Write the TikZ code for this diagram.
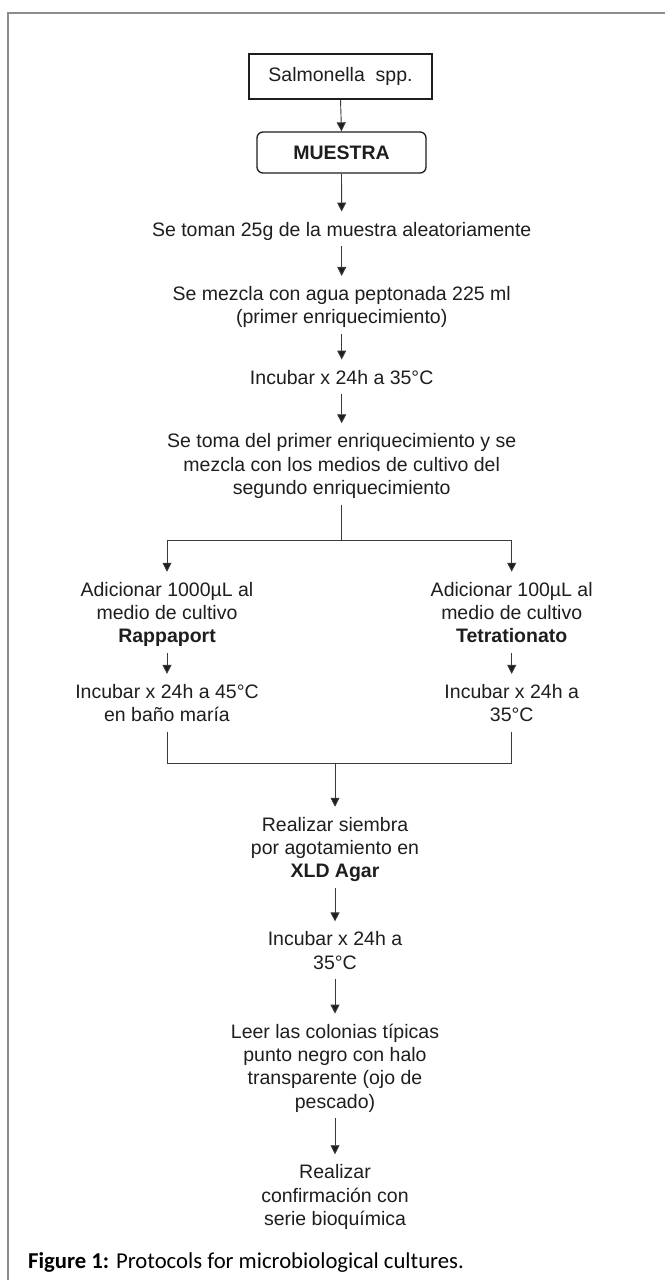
\documentclass[tikz,border=0pt]{standalone}
\usepackage{fontspec}
\setmainfont{Liberation Sans}
\newfontfamily\carlito{Carlito}
\usetikzlibrary{arrows.meta}
\definecolor{ink}{HTML}{1E1E1E}
\definecolor{wire}{HTML}{3A3A3A}
\definecolor{framec}{HTML}{8C8C8C}
\begin{document}
\begin{tikzpicture}[x=1pt,y=-1pt,
  txt/.style={font=\fontsize{19.5}{23.3}\selectfont, align=center, inner xsep=0pt, inner ysep=3pt, text=ink},
  boxnode/.style={txt, draw=ink, line width=1.3pt, inner sep=0pt},
  arr/.style={draw=wire, line width=0.9pt, -{Triangle[width=9pt,length=9pt,fill=ink]}},
  arrt/.style={arr, shorten >=5pt},
  wline/.style={draw=wire, line width=0.9pt}
]
\useasboundingbox (0,0) rectangle (665,1280);
\fill[white] (0,0) rectangle (665,1280);
% frame (open on right and bottom: cropped)
\draw[framec, line width=1.5pt] (8,1280) -- (8,13) -- (665,13);

% top boxes
\node[boxnode, minimum width=183pt, minimum height=45pt] (sal) at (340.5,76.5) {Salmonella~~spp.};
\node[boxnode, minimum width=169pt, minimum height=41pt, rounded corners=6pt] (mue) at (341.5,152.5) {\textbf{MUESTRA}};

% main column
\node[txt] (n1) at (341.7,231.4) {\strut Se toman 25g de la muestra aleatoriamente};
\node[txt] (n2) at (341.7,307.4) {\strut Se mezcla con agua peptonada 225 ml\\\strut (primer enriquecimiento)};
\node[txt] (n3) at (341.7,379.4) {\strut Incubar x 24h a 35°C};
\node[txt] (n4) at (341.7,466.4) {\strut Se toma del primer enriquecimiento y se\\\strut mezcla con los medios de cultivo del\\\strut segundo enriquecimiento};

% branches
\node[txt] (l1) at (167,614.9) {\strut Adicionar 1000µL al\\\strut medio de cultivo\\\strut \textbf{Rappaport}};
\node[txt] (r1) at (511.7,614.9) {\strut Adicionar 100µL al\\\strut medio de cultivo\\\strut \textbf{Tetrationato}};
\node[txt] (l2) at (167,705.4) {\strut Incubar x 24h a 45°C\\\strut en baño maría};
\node[txt] (r2) at (511.7,705.4) {\strut Incubar x 24h a\\\strut 35°C};

% lower column
\node[txt] (n5) at (335,849.9) {\strut Realizar siembra\\\strut por agotamiento en\\\strut \textbf{XLD Agar}};
\node[txt] (n6) at (335,952.9) {\strut Incubar x 24h a\\\strut 35°C};
\node[txt] (n7) at (335,1068.4) {\strut Leer las colonias típicas\\\strut punto negro con halo\\\strut transparente (ojo de\\\strut pescado)};
\node[txt] (n8) at (335,1197.4) {\strut Realizar\\\strut confirmación con\\\strut serie bioquímica};

\coordinate (sp) at (341.7,540);
\coordinate (mg) at (335,763);

% connectors
\draw[arr] (sal.south) -- (mue.north);
\draw[arrt] (mue.south) -- (n1.north);
\draw[arrt] (n1.south) -- (n2.north);
\draw[arrt] (n2.south) -- (n3.north);
\draw[arrt] (n3.south) -- (n4.north);
\draw[arrt] (n4.south) -- (sp) -| (l1.north);
\draw[arrt] (sp) -| (r1.north);
\draw[arrt] (l1.south) -- (l2.north);
\draw[arrt] (r1.south) -- (r2.north);
\draw[wline] (l2.south) |- (mg);
\draw[wline] (r2.south) |- (mg);
\draw[arrt] (mg) -- (n5.north);
\draw[arrt] (n5.south) -- (n6.north);
\draw[arrt] (n6.south) -- (n7.north);
\draw[arrt] (n7.south) -- (n8.north);

% caption
\node[anchor=base west, inner sep=0pt, text=black, font=\carlito\fontsize{22.7}{27}\selectfont] (cap) at (28,1268) {\textbf{Figure 1:} Protocols for microbiological cultures.};
\end{tikzpicture}
\end{document}
